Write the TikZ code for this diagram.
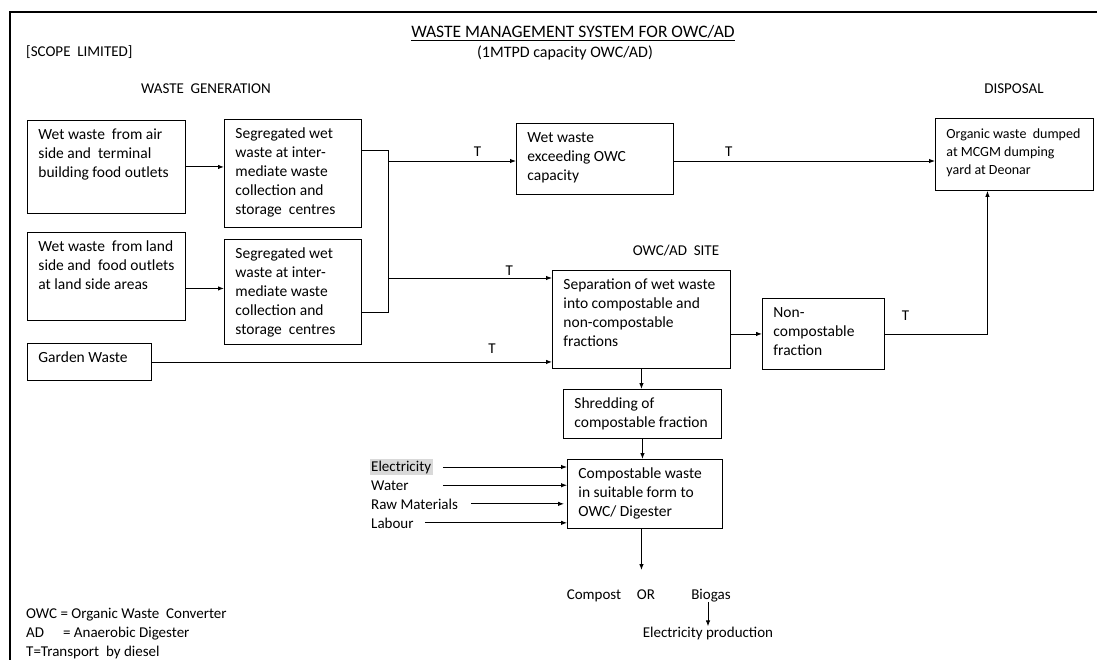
\documentclass[tikz,border=0pt]{standalone}
\usepackage{fontspec}
\setmainfont{Carlito}
\usepackage{xcolor}
\definecolor{hlgray}{RGB}{217,217,217}
\usepackage{tikz}
\usetikzlibrary{arrows.meta, calc}
% top aligned text inside a box of fixed size
\newcommand{\boxtxt}[3]{\parbox[c][#2][t]{#1}{\raggedright\strut #3}}

\begin{document}
\begin{tikzpicture}[x=1pt,y=-1pt,
  every node/.style={font=\fontsize{15}{19}\selectfont},
  blk/.style={draw, line width=0.9pt, anchor=north west, inner xsep=11pt, inner ysep=6pt,
    font=\fontsize{15.5}{19}\selectfont},
  lbl/.style={inner sep=0pt, anchor=base},
  lblw/.style={inner sep=0pt, anchor=base west},
  arr/.style={line width=0.9pt, -{Latex[length=6pt,width=4.5pt]}},
  con/.style={line width=0.9pt}]
 \useasboundingbox (0,0) rectangle (1097,660);
 \draw[line width=1.5pt] (10,670) -- (10,12) -- (1110,12);
 % headings
 \node[lbl,font=\fontsize{17.5}{20}\selectfont] (title) at (573,38) {\underline{WASTE MANAGEMENT SYSTEM FOR OWC/AD}};
 \node[lbl,font=\fontsize{16}{19}\selectfont] (sub) at (565,57.5) {(1MTPD capacity OWC/AD)};
 \node[lblw] (scope) at (26,57) {[SCOPE\ \ LIMITED]};
 \node[lbl] (wgen) at (206,94) {WASTE\ \ GENERATION};
 \node[lbl] (disp) at (1014,94) {DISPOSAL};
 \node[lbl] (site) at (676,256) {OWC/AD\ \ SITE};
 % boxes
 \node[blk] (b1) at (27,120) {\boxtxt{136pt}{81pt}{Wet waste\ \ from air\\side and\ \ terminal\\building food outlets}};
 \node[blk] (b2) at (224,119) {\boxtxt{115pt}{96pt}{Segregated wet\\waste at inter-\\mediate waste\\collection and\\storage\ \ centres}};
 \node[blk] (b3) at (27,232) {\boxtxt{136pt}{76pt}{Wet waste\ \ from land\\side and\ \ food outlets\\at land side areas}};
 \node[blk] (b4) at (224,239) {\boxtxt{115pt}{93pt}{Segregated wet\\waste at inter-\\mediate waste\\collection and\\storage\ \ centres}};
 \node[blk] (gw) at (27,343) {\boxtxt{102pt}{25pt}{Garden Waste}};
 \node[blk] (we) at (516,123) {\boxtxt{135pt}{59pt}{Wet waste\\exceeding OWC\\capacity}};
 \node[blk,font=\fontsize{14}{18}\selectfont,inner ysep=7.5pt] (org) at (935,118) {\boxtxt{136pt}{57pt}{Organic waste\ \ dumped\\at MCGM\ dumping\\yard at Deonar}};
 \node[blk] (sep) at (552,270) {\boxtxt{156pt}{86pt}{Separation\ of wet waste\\into compostable and\\non-compostable\\fractions}};
 \node[blk] (nc) at (762,298) {\boxtxt{100pt}{59pt}{Non-\\compostable\\fraction}};
 \node[blk] (shr) at (563,389) {\boxtxt{136pt}{37pt}{Shredding of\\compostable fraction}};
 \node[blk] (cmp) at (567,459) {\boxtxt{133pt}{57pt}{Compostable waste\\in suitable form to\\OWC/ Digester}};
 % collection
 \draw[arr] (b1.east) -- (b1.east -| b2.west);
 \draw[arr] ([yshift=-12pt]b3.east) -- ([yshift=-12pt]b3.east -| b4.west);
 \coordinate (jt) at (388,150);
 \coordinate (jb) at (388,312);
 \draw[con] (jt -| b2.east) -- (jt) -- (jb) -- (jb -| b4.east);
 \coordinate (ja) at (388,161);
 \coordinate (jc) at (388,278);
 \draw[arr] (ja) -- (ja -| we.west) node[pos=0.7,above=4pt,inner sep=0pt]{T};
 \draw[arr] (ja -| we.east) -- (ja -| org.west) node[pos=0.21,above=4pt,inner sep=0pt]{T};
 \draw[arr] (jc) -- (jc -| sep.west) node[pos=0.74,above=2pt,inner sep=0pt]{T};
 \draw[arr] (gw.east) -- (gw.east -| sep.west) node[pos=0.85,above=8pt,inner sep=0pt]{T};
 % site
 \draw[arr] (nc.west -| sep.east) -- (nc.west);
 \draw[arr] (nc.east) -| ([xshift=-27pt]org.south) node[pos=0.1,above=13pt,inner sep=0pt]{T};
 \draw[arr] (sep.south) -- (sep.south |- shr.north);
 \draw[arr] (shr.south) -- (shr.south |- cmp.north);
 % inputs
 \node[lblw,fill=hlgray,inner sep=1.5pt] (el) at (369.5,471) {Electricity};
 \node[lblw] (wa) at (371,490) {Water};
 \node[lblw] (rm) at (371,509) {Raw Materials};
 \node[lblw] (lb) at (371,528) {Labour};
 \draw[arr] ([xshift=10pt]el.east) -- (el.east -| cmp.west);
 \draw[arr] ([xshift=10pt]el.east |- wa.east) -- (wa.east -| cmp.west);
 \draw[arr,shorten >=3pt] ([xshift=13pt]rm.east) -- (rm.east -| cmp.west);
 \draw[arr] ([xshift=11pt]lb.east) -- (lb.east -| cmp.west);
 % outputs
 \coordinate (out) at (sep.south |- 0,570);
 \draw[arr] (sep.south |- cmp.south) -- (out);
 \node[lbl] (cp) at (594,599) {Compost};
 \node[lbl] (or) at (646,599) {OR};
 \node[lbl] (bg) at (711,599) {Biogas};
 \node[lbl] (ep) at (708,637) {Electricity production};
 \draw[arr] ([xshift=-3pt]bg.south) -- ([xshift=-3pt]bg.south |- ep.north);
 % legend
 \node[lblw] (l1) at (26,618) {OWC = Organic Waste\ \ Converter};
 \node[lblw] (l2) at (26,637) {AD\hspace{19pt}= Anaerobic Digester};
 \node[lblw] (l3) at (26,656) {T=Transport\ \ by diesel};
\end{tikzpicture}
\end{document}
